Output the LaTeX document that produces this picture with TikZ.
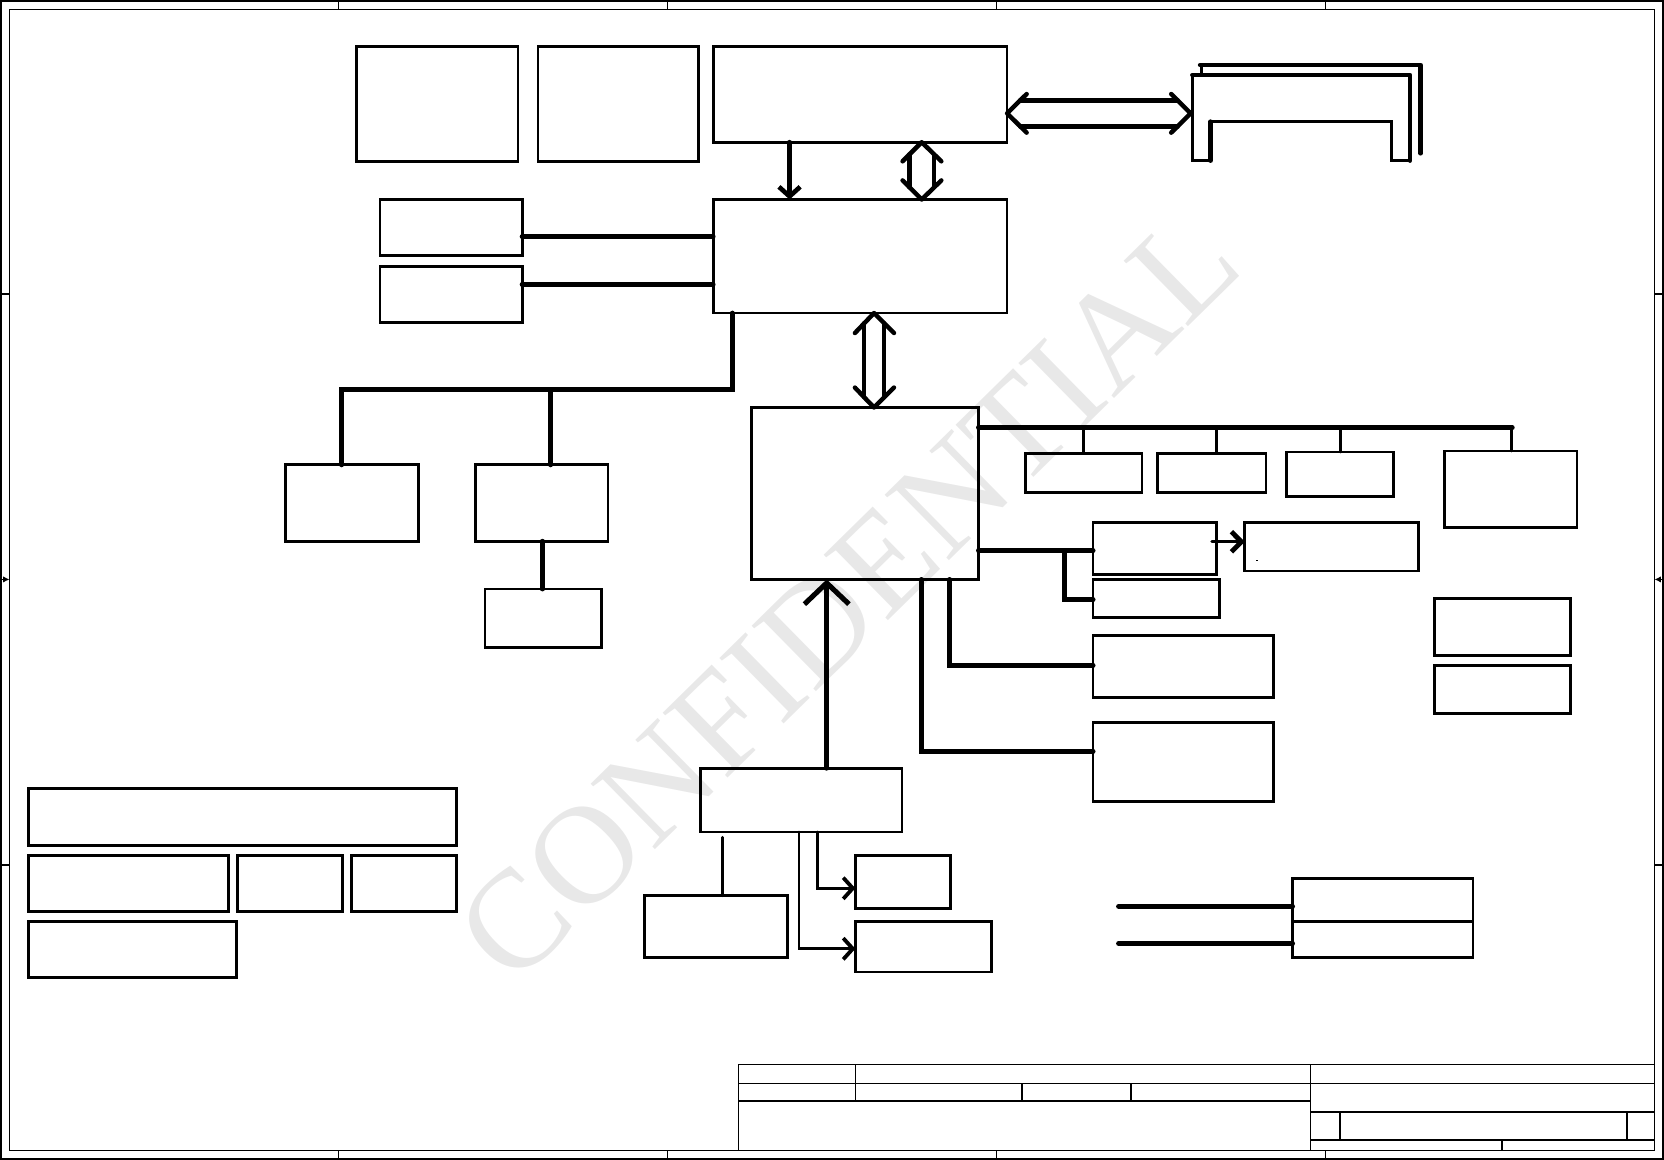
\documentclass[tikz,border=0pt]{standalone}
\usepackage{fontspec}
\setmainfont{Liberation Serif}
\usetikzlibrary{arrows.meta,calc}
\newcommand\mkbox[5]{\node[bx,minimum width={(#4-#2)*0.5pt},minimum height={(#5-#3)*0.5pt}] (#1) at ({(#2+#4)/2},{(#3+#5)/2}) {};}
\begin{document}
\begin{tikzpicture}[x=0.5pt,y=-0.5pt,
  bx/.style={draw,line width=1.3pt,inner sep=0pt,outer sep=0pt},
  bus/.style={line width=2.3pt,line cap=round},
  thin/.style={line width=1.3pt,line cap=round},
  hol/.style={line width=2.1pt,line cap=round,line join=round},
  frm/.style={line width=0.8pt},
  tb/.style={line width=0.8pt},
  slotthin/.style={line width=1.2pt,line cap=round},
  slotthick/.style={line width=2.1pt,line cap=round,line join=round},
  thinarr/.style={line width=1.3pt,line cap=round,-{Straight Barb[length=4.5pt,width=10pt,line width=1.8pt]}},
  medarr/.style={line width=2.2pt,line cap=round,-{Straight Barb[length=4.5pt,width=10pt,line width=2.2pt]}},
  jkarr/.style={line width=1.4pt,line cap=round,-{Straight Barb[length=4.7pt,width=9.5pt,line width=2.3pt]}},
  bigarr/.style={line width=2.2pt,line cap=round,-{Straight Barb[length=10pt,width=21pt,line width=2.4pt]}}]
\useasboundingbox (0,0) rectangle (1568,1093);

% watermark
\node[rotate=44.5,text=black!9,inner sep=0pt,font=\fontsize{66}{66}\selectfont] (wm) at (799,562) {CONFIDENTIAL};

% frame
\draw[frm] (1,1) rectangle (1567,1092);
\draw[frm] (9,9) rectangle (1559,1084);
\foreach \x in {319,629,939,1249} {\draw[frm] (\x,1) -- (\x,9); \draw[frm] (\x,1084) -- (\x,1092);}
\foreach \y in {277,815} {\draw[frm] (1,\y) -- (9,\y); \draw[frm] (1559,\y) -- (1567,\y);}
\draw[frm,-{Latex[length=3pt,width=3pt]}] (1,546) -- (9,546);
\draw[frm,-{Latex[length=3pt,width=3pt]}] (1567,546) -- (1559,546);

% title block
\draw[tb] (696,1084) -- (696,1003) -- (1559,1003);
\draw[tb] (696,1021) -- (1559,1021);
\draw[tb] (806,1003) -- (806,1037.5);
\draw[tb] (696,1037.5) -- (1235,1037.5);
\draw[tb] (963,1021) -- (963,1037.5);
\draw[tb] (1066,1021) -- (1066,1037.5);
\draw[tb] (1235,1003) -- (1235,1084);
\draw[tb] (1235,1047.5) -- (1559,1047.5);
\draw[tb] (1263,1047.5) -- (1263,1074);
\draw[tb] (1533,1047.5) -- (1533,1074);
\draw[tb] (1235,1074) -- (1559,1074);
\draw[tb] (1415,1074) -- (1415,1084);

% boxes
\mkbox{A}{336}{44}{488}{152}
\mkbox{B}{507}{44}{658}{152}
\mkbox{C}{672}{44}{949}{134}
\mkbox{D}{672}{188}{949}{295}
\mkbox{E1}{358}{188}{492}{241}
\mkbox{E2}{358}{251}{492}{304}
\mkbox{F1}{269}{438}{394}{510}
\mkbox{F2}{448}{438}{573}{510}
\mkbox{G}{457}{555}{567}{610}
\mkbox{H}{708}{384}{922}{546}
\mkbox{I1}{966}{427}{1076}{464}
\mkbox{I2}{1091}{427}{1193}{464}
\mkbox{I3}{1212}{426}{1313}{468}
\mkbox{I4}{1361}{425}{1486}{497}
\mkbox{J1}{1030}{492}{1146}{541}
\mkbox{J2}{1030}{546}{1149}{582}
\mkbox{K}{1173}{492}{1337}{538}
\mkbox{L1}{1030}{599}{1200}{657}
\mkbox{L2}{1030}{681}{1200}{755}
\mkbox{M}{660}{724}{850}{784}
\mkbox{N}{607}{844}{742}{902}
\mkbox{O1}{806}{806}{896}{856}
\mkbox{O2}{806}{868}{934}{916}
\mkbox{P1}{1352}{564}{1480}{618}
\mkbox{P2}{1352}{627}{1480}{672}
\mkbox{Q1}{1218}{828}{1388}{868}
\mkbox{Q2}{1218}{868}{1388}{902}
\mkbox{R1}{27}{743}{430}{797}
\mkbox{R2}{27}{806}{215}{859}
\mkbox{R3}{224}{806}{323}{859}
\mkbox{R4}{331}{806}{430}{859}
\mkbox{R5}{27}{868}{223}{921}

% slot shape (top right)
\coordinate (slot) at (1122,106.8);
\draw[slotthin] (1123.5,70.7) -- (1123.5,151.4) -- (1140.8,151.4);
\draw[slotthick] (1140.8,151.4) -- (1140.8,114.6);
\draw[slotthin] (1140.8,114.6) -- (1311.4,114.6) -- (1311.4,151.4) -- (1328.6,151.4);
\draw[slotthick] (1328.6,151.4) -- (1328.6,70.7) -- (1123.5,70.7);
\draw[slotthick] (1130.8,61.2) -- (1338.7,61.2) -- (1338.7,144.5);
\draw[slotthin] (1132.3,61.2) -- (1132.3,70.7);

% hollow double arrow C <-> slot
\coordinate (csL) at (C.east |- 0,106.8);
\draw[hol] ($(csL)+(18.4,-18.2)$) -- (csL) -- ($(csL)+(18.4,18.2)$);
\draw[hol] ($(slot)+(-18.4,-18.2)$) -- (slot) -- ($(slot)+(-18.4,18.2)$);
\draw[hol] ($(csL)+(12.3,-12.2)$) -- ($(slot)+(-12.3,-12.2)$);
\draw[hol] ($(csL)+(12.3,12.2)$) -- ($(slot)+(-12.3,12.2)$);

% hollow double arrow C <-> D
\coordinate (cdT) at (C.south -| 868.5,0);
\coordinate (cdB) at (D.north -| 868.5,0);
\draw[hol] ($(cdT)+(-18,18)$) -- (cdT) -- ($(cdT)+(18.5,18)$);
\draw[hol] ($(cdB)+(-18,-18)$) -- (cdB) -- ($(cdB)+(18.5,-18)$);
\draw[hol] ($(cdT)+(-11.5,11.5)$) -- ($(cdB)+(-11.5,-11.5)$);
\draw[hol] ($(cdT)+(11.5,11.5)$) -- ($(cdB)+(11.5,-11.5)$);

% hollow double arrow D <-> H
\coordinate (dhT) at (D.south -| 823.6,0);
\coordinate (dhB) at (H.north -| 823.6,0);
\draw[hol] ($(dhT)+(-18,18.8)$) -- (dhT) -- ($(dhT)+(18.8,18.8)$);
\draw[hol] ($(dhB)+(-18,-18.8)$) -- (dhB) -- ($(dhB)+(18.8,-18.8)$);
\draw[hol] ($(dhT)+(-9.4,9.6)$) -- ($(dhB)+(-9.4,-9.6)$);
\draw[hol] ($(dhT)+(9.6,9.6)$) -- ($(dhB)+(9.6,-9.6)$);

% connectors
\draw[medarr] (C.south -| 744,0) -- (D.north -| 744,0);
\draw[bus] (E1.east |- 0,223) -- (D.west |- 0,223);
\draw[bus] (E2.east |- 0,268) -- (D.west |- 0,268);
\draw[bus] (D.south -| 690,0) -- (690,367) -| (F1.north -| 322,0);
\draw[bus] (519,367) -- (F2.north -| 519,0);
\draw[bus] (F2.south -| 511,0) -- (G.north -| 511,0);

\draw[bus] (H.east |- 0,403) -- (1425,403);
\draw[thin] (1021,403) -- (I1.north -| 1021,0);
\draw[thin] (1146,403) -- (I2.north -| 1146,0);
\draw[thin] (1263,403) -- (I3.north -| 1263,0);
\draw[thin] (1424,403) -- (I4.north -| 1424,0);

\draw[bus] (H.east |- 0,519) -- (J1.west |- 0,519);
\draw[bus] (1003,519) -- (1003,565) -- (J2.west |- 0,565);
\draw[jkarr] ([xshift=-2pt]J1.east |- 0,510.5) -- (K.west |- 0,510.5);
\fill (1183.5,527.5) rectangle (1185,529);

\draw[bus] (H.south -| 895,0) |- (L1.west |- 0,627);
\draw[bus] (H.south -| 868,0) |- (L2.west |- 0,708);

\draw[bigarr] (M.north -| 779,0) -- (H.south -| 779,0);
\draw[thin] (681,789) -- (N.north -| 681,0);
\draw[thinarr] (M.south -| 770,0) |- (O1.west |- 0,837);
\draw[thinarr] (M.south -| 753,0) |- (O2.west |- 0,894);

\draw[bus] (1054,854) -- (Q1.west |- 0,854);
\draw[bus] (1054,889) -- (Q2.west |- 0,889);
\end{tikzpicture}
\end{document}
